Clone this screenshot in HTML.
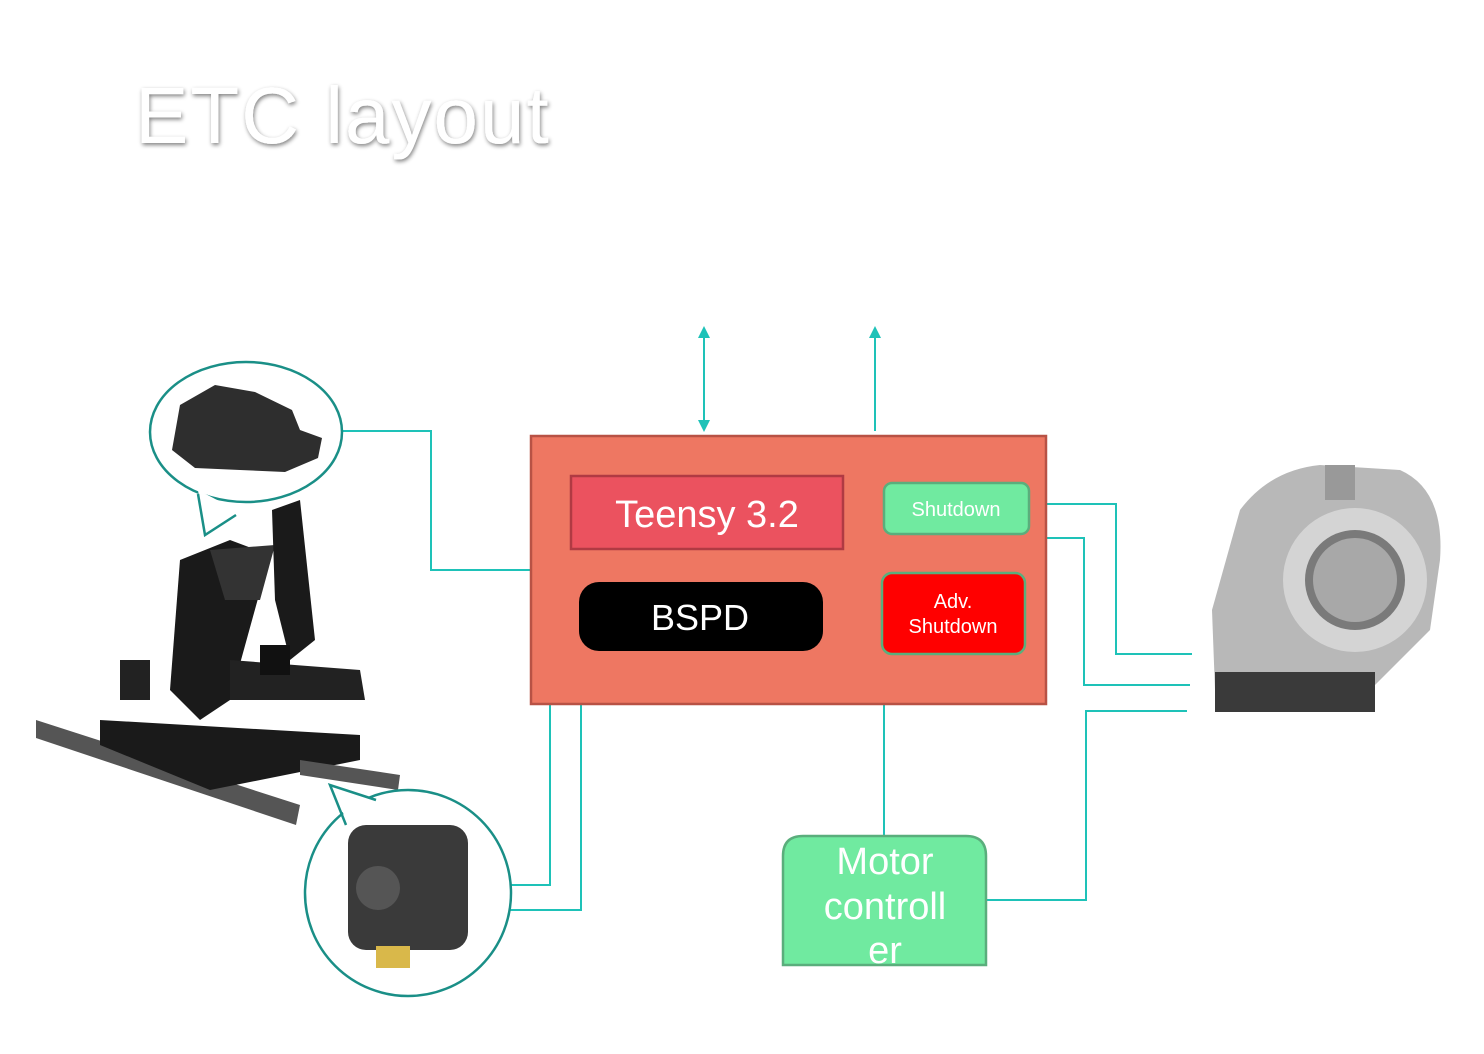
<!DOCTYPE html>
<html><head><meta charset="utf-8"><style>
html,body{margin:0;padding:0;background:#fff;}
svg{display:block;font-family:"Century Gothic","Liberation Sans",sans-serif;}
</style></head><body>
<svg width="1484" height="1054" viewBox="0 0 1484 1054" xmlns="http://www.w3.org/2000/svg">
<defs>
<filter id="sh" x="-10%" y="-20%" width="120%" height="140%"><feGaussianBlur in="SourceAlpha" stdDeviation="2"/><feOffset dx="1" dy="2"/><feComponentTransfer><feFuncA type="linear" slope="0.5"/></feComponentTransfer><feMerge><feMergeNode/><feMergeNode in="SourceGraphic"/></feMerge></filter>
<marker id="ar" markerWidth="12" markerHeight="12" refX="6" refY="6" orient="auto-start-reverse" markerUnits="userSpaceOnUse"><path d="M0,0 L12,6 L0,12 z" fill="#1ec2b8"/></marker>
</defs>
<text x="135" y="143" font-size="80" fill="#fff" filter="url(#sh)" letter-spacing="2">ETC layout</text>

<g stroke="#1ec2b8" stroke-width="2" fill="none">
<polyline points="332,431 431,431 431,570 531,570"/>
<line x1="704" y1="332" x2="704" y2="426" marker-start="url(#ar)" marker-end="url(#ar)"/>
<line x1="875" y1="431" x2="875" y2="332" marker-end="url(#ar)"/>
<polyline points="1043,504 1116,504 1116,654 1192,654"/>
<polyline points="1037,538 1084,538 1084,685 1190,685"/>
<polyline points="987,900 1086,900 1086,711 1187,711"/>
<polyline points="707,704 884,704 884,836"/>
<polyline points="550,705 550,885 488,885"/>
<polyline points="581,705 581,910 488,910"/>
</g>

<rect x="531" y="436" width="515" height="268" fill="#ee7762" stroke="#b85245" stroke-width="2.5"/>
<rect x="571" y="476" width="272" height="73" fill="#eb525f" stroke="#b03a43" stroke-width="2.5"/>
<text x="707" y="527" font-size="38" fill="#fff" text-anchor="middle">Teensy 3.2</text>
<rect x="579" y="582" width="244" height="69" rx="20" fill="#000"/>
<text x="700" y="630" font-size="36" fill="#fff" text-anchor="middle">BSPD</text>
<rect x="884" y="483" width="145" height="51" rx="8" fill="#70eaa0" stroke="#5aae7c" stroke-width="2.5"/>
<text x="956" y="516" font-size="20" fill="#fff" text-anchor="middle">Shutdown</text>
<rect x="882" y="573" width="143" height="81" rx="10" fill="#ff0000" stroke="#5aae7c" stroke-width="2.5"/>
<text x="953" y="608" font-size="20" fill="#fff" text-anchor="middle">Adv.</text>
<text x="953" y="633" font-size="20" fill="#fff" text-anchor="middle">Shutdown</text>

<path d="M783,965 V856 Q783,836 803,836 H966 Q986,836 986,856 V965 Z" fill="#70eaa0" stroke="#5aae7c" stroke-width="2.5"/>
<text x="885" y="874" font-size="38" fill="#fff" text-anchor="middle">Motor</text>
<text x="885" y="919" font-size="38" fill="#fff" text-anchor="middle">controll</text>
<text x="885" y="963" font-size="38" fill="#fff" text-anchor="middle">er</text>

<!-- pedal assembly -->
<g fill="#1a1a1a">
<polygon points="36,720 300,805 296,825 36,738" fill="#555"/>
<polygon points="100,720 360,735 360,760 210,790 100,745"/>
<polygon points="300,760 400,775 398,790 300,775" fill="#555"/>
<polygon points="180,560 230,540 270,555 230,700 200,720 170,690"/>
<polygon points="210,550 275,545 260,600 225,600" fill="#333"/>
<polygon points="272,510 300,500 315,640 290,660 275,600"/>
<polygon points="230,660 360,670 365,700 230,700" fill="#222"/>
<rect x="260" y="645" width="30" height="30" fill="#111"/>
<rect x="120" y="660" width="30" height="40" fill="#222"/>
</g>
<!-- upper callout -->
<ellipse cx="246" cy="432" rx="96" ry="70" fill="#fff" stroke="#1a8f87" stroke-width="2.5"/>
<polygon points="198,490 205,535 240,512" fill="#fff"/>
<polyline points="198,494 205,535 236,515" fill="none" stroke="#1a8f87" stroke-width="2.5"/>
<path d="M180,405 L215,385 L255,392 L292,410 L300,430 L322,438 L318,458 L285,472 L240,470 L195,468 L172,450 Z" fill="#2e2e2e"/>
<!-- lower callout -->
<circle cx="408" cy="893" r="103" fill="#fff" stroke="#1a8f87" stroke-width="2.5"/>
<polygon points="330,785 352,832 380,802" fill="#fff"/>
<polyline points="346,825 330,785 376,800" fill="none" stroke="#1a8f87" stroke-width="2.5"/>
<rect x="348" y="825" width="120" height="125" rx="18" fill="#3a3a3a"/>
<circle cx="378" cy="888" r="22" fill="#555"/>
<rect x="376" y="946" width="34" height="22" fill="#d9b84a"/>

<!-- throttle body -->
<g>
<path d="M1240,510 Q1270,470 1320,465 L1400,470 Q1445,490 1440,560 L1430,630 L1370,690 L1280,705 L1215,690 L1212,610 Z" fill="#b8b8b8"/>
<circle cx="1355" cy="580" r="72" fill="#d4d4d4"/>
<circle cx="1355" cy="580" r="50" fill="#7a7a7a"/>
<circle cx="1355" cy="580" r="42" fill="#a8a8a8"/>
<rect x="1215" y="672" width="160" height="40" fill="#3a3a3a"/>
<rect x="1325" y="465" width="30" height="35" fill="#999"/>
</g>
</svg>
</body></html>
